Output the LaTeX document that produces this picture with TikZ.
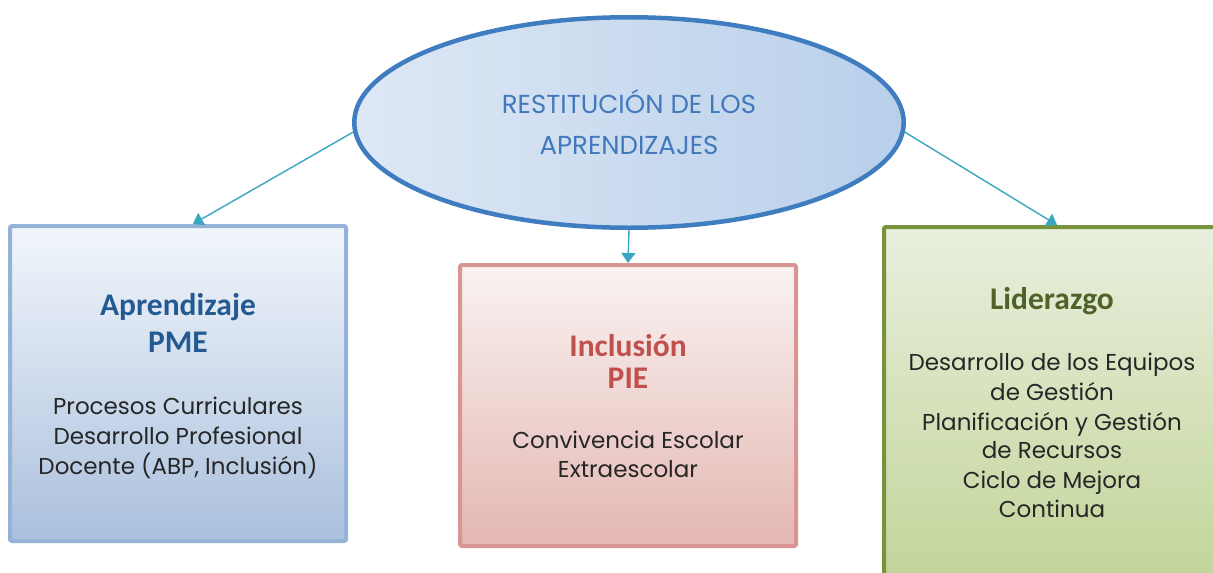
\documentclass[tikz,border=0pt]{standalone}
\usepackage{fontspec}
\usetikzlibrary{arrows.meta,shapes.geometric}
\newfontfamily\bodyfont{Poppins}
\newfontfamily\titlefont{Carlito}
\definecolor{elborder}{HTML}{3F7DC0}
\definecolor{elleft}{HTML}{DEE8F5}
\definecolor{elright}{HTML}{B8CFEA}
\definecolor{eltext}{HTML}{4279BC}
\definecolor{arrowc}{HTML}{3AA6C2}
\definecolor{bluebd}{HTML}{95B3D7}
\definecolor{bluetop}{HTML}{F2F6FB}
\definecolor{bluebot}{HTML}{AAC0DD}
\definecolor{bluetitle}{HTML}{245A92}
\definecolor{redbd}{HTML}{D99594}
\definecolor{redtop}{HTML}{F9F3F2}
\definecolor{redmid}{HTML}{FCEADB}
\definecolor{redbot}{HTML}{E4B7B2}
\definecolor{redtitle}{HTML}{C0504D}
\definecolor{greenbd}{HTML}{77933C}
\definecolor{greentop}{HTML}{E9EFDE}
\definecolor{greenbot}{HTML}{C0D395}
\definecolor{greentitle}{HTML}{4F6228}
\definecolor{bodyc}{HTML}{262626}
\tikzset{
  box/.style={rectangle, inner sep=0pt, line width=4pt, rounded corners=2pt},
  arr/.style={draw=arrowc, line width=1.4pt, -{Triangle[width=14pt,length=10pt]}},
  bodytxt/.style={font=\bodyfont\fontsize{23}{27}\selectfont, text=bodyc, anchor=base, inner sep=0pt},
  titletxt/.style={font=\titlefont\bfseries\fontsize{31.5}{35}\selectfont, anchor=base, inner sep=0pt},
  eltxt/.style={font=\bodyfont\fontsize{26}{30}\selectfont, text=eltext, anchor=base, inner sep=0pt}
}
\begin{document}
\begin{tikzpicture}[x=1pt,y=-1pt]
\useasboundingbox (0,0) rectangle (1213,573);
\clip (0,0) rectangle (1213,573);
\fill[white] (0,0) rectangle (1213,573);
% boxes
\node[box, draw=bluebd, top color=bluetop, bottom color=bluebot,
  minimum width=336pt, minimum height=315pt] (lbox) at (178,383.5) {};
\node[box, draw=redbd, top color=redtop, middle color=redmid, bottom color=redbot,
  minimum width=336pt, minimum height=281pt] (mbox) at (628,405.5) {};
\node[box, draw=greenbd, top color=greentop, bottom color=greenbot,
  minimum width=336pt, minimum height=373pt] (rbox) at (1052,413.5) {};
% ellipse
\node[ellipse, draw=elborder, line width=4.5pt, left color=elleft, right color=elright,
  inner sep=0pt, minimum width=549.5pt, minimum height=210.5pt] (el) at (629,122.5) {};
\node[eltxt] (el1) at (629,113) {RESTITUCIÓN DE LOS};
\node[eltxt] (el2) at (629,154) {APRENDIZAJES};
% connectors
\draw[arr] (el.182) -- ([xshift=15pt]lbox.north);
\draw[arr] (el.south) -- (mbox.north);
\draw[arr] (el.358) -- ([xshift=5pt]rbox.north);
% left texts
\node[titletxt, text=bluetitle] (lt1) at (178,315) {Aprendizaje};
\node[titletxt, text=bluetitle] (lt2) at (178,352) {PME};
\node[bodytxt] (lb1) at (178,414) {Procesos Curriculares};
\node[bodytxt] (lb2) at (178,444) {Desarrollo Profesional};
\node[bodytxt] (lb3) at (178,474) {Docente (ABP, Inclusión)};
% middle texts
\node[titletxt, text=redtitle] (mt1) at (628,356) {Inclusión};
\node[titletxt, text=redtitle] (mt2) at (628,388) {PIE};
\node[bodytxt] (mb1) at (628,448) {Convivencia Escolar};
\node[bodytxt] (mb2) at (628,477) {Extraescolar};
% right texts
\node[titletxt, text=greentitle] (rt1) at (1052,309) {Liderazgo};
\node[bodytxt] (rb1) at (1052,370) {Desarrollo de los Equipos};
\node[bodytxt] (rb2) at (1052,400) {de Gestión};
\node[bodytxt] (rb3) at (1052,430) {Planificación y Gestión};
\node[bodytxt] (rb4) at (1052,458) {de Recursos};
\node[bodytxt] (rb5) at (1052,488) {Ciclo de Mejora};
\node[bodytxt] (rb6) at (1052,517) {Continua};
\end{tikzpicture}
\end{document}
